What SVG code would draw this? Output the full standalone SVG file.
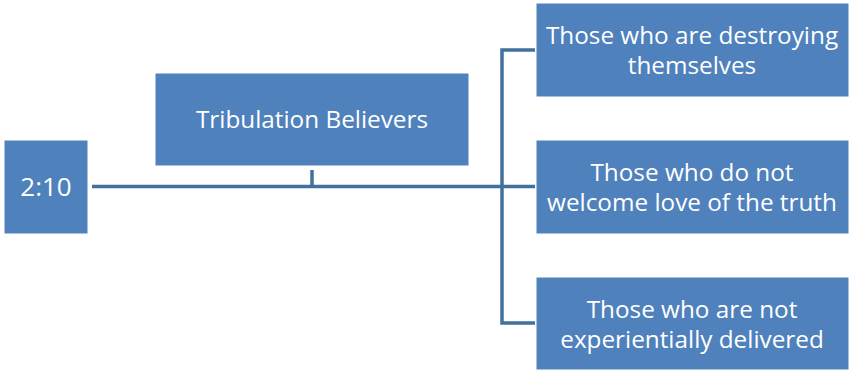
<svg xmlns="http://www.w3.org/2000/svg" width="851" height="371" viewBox="0 0 851 371">
<style>
.box{fill:#4F81BD;stroke:#FFFFFF;stroke-width:1}
.t{fill:#FFFFFF;font-family:"Open Sans","Liberation Sans",sans-serif;font-size:24.3px;text-anchor:middle}
.c{fill:none;stroke:#41719C;stroke-width:3.5}
</style>
<rect width="851" height="371" fill="#FFFFFF"/>
<g id="connectors">
<path class="c" d="M92 186.5 H535"/>
<path class="c" d="M312 170 V186.5"/>
<path class="c" d="M535 50 H502 V323 H535"/>
</g>
<g id="n210">
<rect class="box" x="4" y="140" width="84" height="94"/>
<text class="t" x="46" y="196" style="font-size:26px">2:10</text>
</g>
<g id="tribulation">
<rect class="box" x="155" y="73" width="314" height="93"/>
<text class="t" x="312" y="128">Tribulation Believers</text>
</g>
<g id="destroying">
<rect class="box" x="536" y="3" width="313" height="94"/>
<text class="t" x="692" y="44">Those who are destroying</text>
<text class="t" x="692" y="74">themselves</text>
</g>
<g id="welcome">
<rect class="box" x="536" y="140" width="313" height="94"/>
<text class="t" x="692" y="181">Those who do not</text>
<text class="t" x="692" y="211">welcome love of the truth</text>
</g>
<g id="delivered">
<rect class="box" x="536" y="277" width="313" height="93"/>
<text class="t" x="692" y="318">Those who are not</text>
<text class="t" x="692" y="348">experientially delivered</text>
</g>
</svg>
